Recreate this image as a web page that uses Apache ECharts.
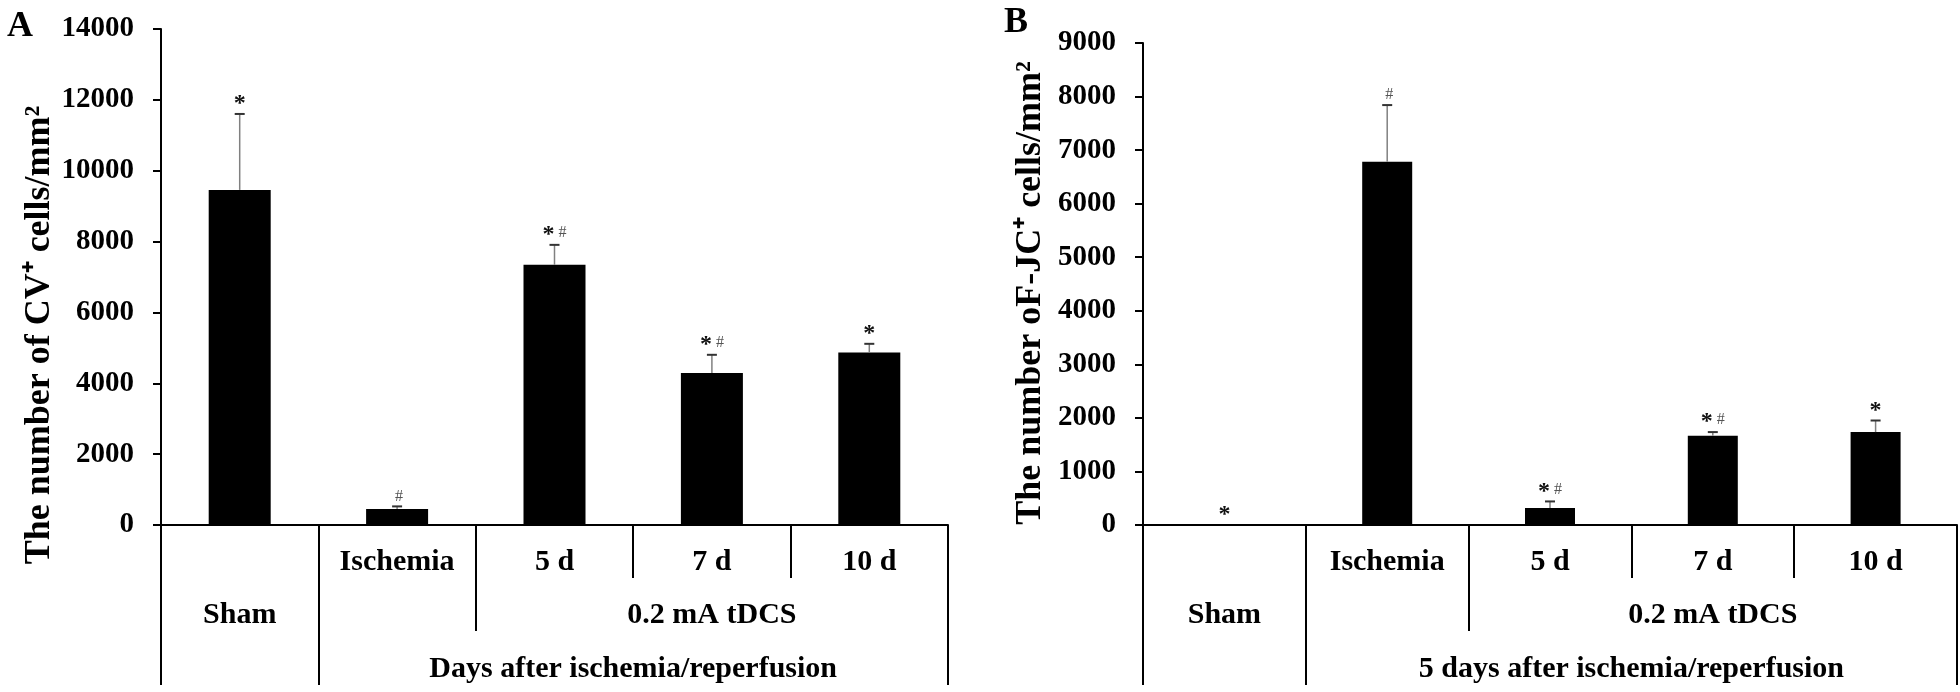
<!DOCTYPE html>
<html>
<head>
<meta charset="utf-8">
<script src="https://cdn.jsdelivr.net/npm/echarts@6/dist/echarts.min.js"></script>
<style>
  html, body { margin: 0; padding: 0; background: #fff; }
  #chart { width: 1960px; height: 692px; }
</style>
</head>
<body>
<div id="chart"></div>
<script>
// ---------- data ----------
const categories = ['Sham', 'Ischemia', '5 d', '7 d', '10 d'];
const topRowLabels = ['', 'Ischemia', '5 d', '7 d', '10 d'];
const midRowGroups = [['Sham', 0, 1], ['0.2 mA tDCS', 2, 5]];
const midRowBoundaries = [2];
const outerBoundaries = [0, 1, 5];
const bottomRowA = [['Days after ischemia/reperfusion', 1, 5]];
const bottomRowB = [['5 days after ischemia/reperfusion', 1, 5]];

const valuesA = [9458, 451, 7343, 4288, 4869];
const errorsA = [2144, 74, 564, 516, 245];
const marksA  = ['*', '#', '*#', '*#', '*'];

const valuesB = [0, 6784, 317, 1666, 1735];
const errorsB = [0, 1057, 123, 69, 216];
const marksB  = ['*', '#', '*#', '*#', '*'];

const yTicksA = { min: 0, max: 14000, interval: 2000 };
const yTicksB = { min: 0, max: 9000, interval: 1000 };

const yTitleA = 'The number of CV\u207A cells/mm\u00B2';
const yTitleB = 'The number oF-JC\u207A cells/mm\u00B2';

// ---------- styling ----------
const FONT = '"Liberation Serif", "Times New Roman", serif';

function groupCenters(groups) {
  return groups.map(g => (g[1] + g[2]) / 2);
}
function groupLabel(groups) {
  return function (v) {
    for (const g of groups) if (Math.abs((g[1] + g[2]) / 2 - v) < 1e-6) return g[0];
    return '';
  };
}

function xAxesFor(gridIndex, bottomRow) {
  return [
    {
      type: 'category', gridIndex, data: categories, position: 'bottom',
      axisLine: { lineStyle: { color: '#000', width: 2 } },
      axisTick: { show: true, length: 53, lineStyle: { color: '#000', width: 2 } },
      axisLabel: {
        interval: 0, margin: 22, color: '#000', fontFamily: FONT, fontWeight: 'bold', fontSize: 30,
        formatter: (v, i) => topRowLabels[i]
      },
      splitLine: { show: false }
    },
    {
      type: 'value', gridIndex, min: 0, max: categories.length, position: 'bottom',
      axisLine: { show: false },
      axisTick: { show: true, length: 106, customValues: midRowBoundaries, lineStyle: { color: '#000', width: 2 } },
      axisLabel: {
        customValues: groupCenters(midRowGroups), margin: 75, color: '#000',
        fontFamily: FONT, fontWeight: 'bold', fontSize: 30, formatter: groupLabel(midRowGroups)
      },
      splitLine: { show: false }
    },
    {
      type: 'value', gridIndex, min: 0, max: categories.length, position: 'bottom',
      axisLine: { show: false },
      axisTick: { show: true, length: 160, customValues: outerBoundaries, lineStyle: { color: '#000', width: 2 } },
      axisLabel: {
        customValues: groupCenters(bottomRow), margin: 129, color: '#000',
        fontFamily: FONT, fontWeight: 'bold', fontSize: 30, formatter: groupLabel(bottomRow)
      },
      splitLine: { show: false }
    }
  ];
}

function yAxisFor(gridIndex, ticks, title, nameGap, namePadding) {
  return {
    type: 'value', gridIndex, min: ticks.min, max: ticks.max, interval: ticks.interval,
    name: title, nameLocation: 'middle', nameRotate: 90, nameGap: nameGap,
    nameTextStyle: { fontFamily: FONT, fontWeight: 'bold', fontSize: 36, color: '#000', padding: namePadding },
    axisLine: { show: true, lineStyle: { color: '#000', width: 2 } },
    axisTick: { show: true, length: 8, lineStyle: { color: '#000', width: 2 } },
    axisLabel: { margin: 27, color: '#000', fontFamily: FONT, fontWeight: 'bold', fontSize: 29,
      formatter: v => String(v) },
    splitLine: { show: false }
  };
}

function markText(m) {
  return m.split('').map(c => c === '*' ? '{s|*}' : '{h|#}').join('');
}

function errorSeries(xAxisIndex, yAxisIndex, values, errors, marks) {
  return {
    type: 'custom', xAxisIndex, yAxisIndex, z: 5,
    data: values.map((v, i) => [i, v, errors[i]]),
    renderItem: function (params, api) {
      const i = params.dataIndex;
      const mean = api.value(1);
      const sd = api.value(2);
      const base = api.coord([i, mean]);
      const top = api.coord([i, mean + sd]);
      const children = [];
      if (sd > 0) {
        children.push({ type: 'line', shape: { x1: base[0], y1: base[1], x2: top[0], y2: top[1] },
          style: { stroke: '#808080', lineWidth: 1.5 } });
        children.push({ type: 'line', shape: { x1: top[0] - 5, y1: top[1], x2: top[0] + 5, y2: top[1] },
          style: { stroke: '#333', lineWidth: 2 } });
      }
      children.push({ type: 'text', style: {
        x: top[0], y: top[1] + 2, text: markText(marks[i]), align: 'center', verticalAlign: 'bottom',
        rich: {
          s: { fontFamily: FONT, fontWeight: 'bold', fontSize: 24, fill: '#111' },
          h: { fontFamily: FONT, fontSize: 16, fill: '#555', padding: [0, 0, 4, 4] }
        }
      } });
      return { type: 'group', children };
    }
  };
}

const option = {
  backgroundColor: '#fff',
  animation: false,
  title: [
    { text: 'A', left: 2, top: 4, textStyle: { fontFamily: FONT, fontWeight: 'bold', fontSize: 36, color: '#000' } },
    { text: 'B', left: 999, top: 0, textStyle: { fontFamily: FONT, fontWeight: 'bold', fontSize: 36, color: '#000' } }
  ],
  grid: [
    { left: 161, top: 29, width: 787, height: 496 },
    { left: 1143, top: 43, width: 814, height: 482 }
  ],
  xAxis: [...xAxesFor(0, bottomRowA), ...xAxesFor(1, bottomRowB)],
  yAxis: [
    yAxisFor(0, yTicksA, yTitleA, 94, [0, 116, 0, 0]),
    yAxisFor(1, yTicksB, yTitleB, 94, [0, 18, 0, 0])
  ],
  series: [
    { type: 'bar', xAxisIndex: 0, yAxisIndex: 0, data: valuesA, barWidth: 62,
      itemStyle: { color: '#000' } },
    errorSeries(0, 0, valuesA, errorsA, marksA),
    { type: 'bar', xAxisIndex: 3, yAxisIndex: 1, data: valuesB, barWidth: 50,
      itemStyle: { color: '#000' } },
    errorSeries(3, 1, valuesB, errorsB, marksB)
  ]
};

const chart = echarts.init(document.getElementById('chart'), null, { renderer: 'canvas' });
chart.setOption(option);
</script>
</body>
</html>
